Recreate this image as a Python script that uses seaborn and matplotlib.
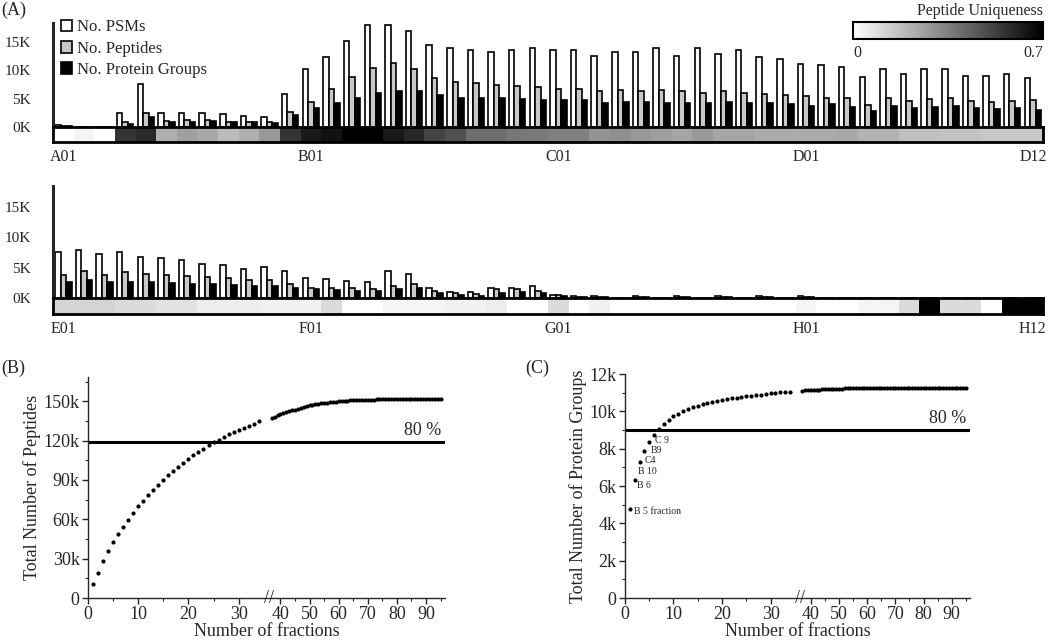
import numpy as np
import pandas as pd
import matplotlib
matplotlib.use("Agg")
import matplotlib.pyplot as plt
import matplotlib.transforms as mtransforms
from matplotlib.patches import Patch
import seaborn as sns

sns.set_style("ticks")
plt.rcParams["font.family"] = ["Liberation Serif", "DejaVu Serif"]

# ---------------- panel A data (values in thousands) ----------------
wells_top = [f"{r}{c:02d}" for r in "ABCD" for c in range(1, 13)]
wells_bot = [f"{r}{c:02d}" for r in "EFGH" for c in range(1, 13)]
labels_top = ["A01", "B01", "C01", "D01", "D12"]
labels_bot = ["E01", "F01", "G01", "H01", "H12"]

psm_top = [0.3, 0, 0, 2.5, 7.6, 2.5, 2.5, 2.5, 2.3, 1.95, 1.7, 5.8,
           10.2, 12.4, 15.2, 18.1, 18.0, 17.0, 14.5, 14.0, 13.6, 13.3, 13.6, 14.0,
           13.6, 13.6, 12.6, 13.3, 13.2, 13.9, 12.6, 13.9, 13.0, 13.6, 12.3, 12.1,
           11.2, 10.9, 10.6, 8.8, 10.3, 9.3, 10.3, 10.3, 9.0, 9.0, 9.3, 8.7]
pep_top = [0.2, 0, 0, 0.8, 2.4, 1.1, 1.2, 1.2, 0.95, 0.8, 0.8, 2.6,
           4.5, 6.7, 8.8, 10.5, 11.4, 10.3, 8.6, 7.9, 7.8, 7.5, 7.3, 7.0,
           6.8, 6.8, 6.3, 6.5, 6.3, 6.6, 6.3, 6.0, 6.3, 6.0, 5.8, 5.7,
           5.4, 5.2, 5.1, 3.9, 5.2, 4.6, 5.0, 5.2, 4.6, 4.5, 4.6, 4.7]
prot_top = [0.2, 0, 0, 0.55, 1.8, 0.8, 0.95, 1.0, 0.85, 0.8, 0.75, 2.1,
            3.4, 4.3, 5.2, 6.0, 6.4, 6.4, 5.6, 5.2, 5.2, 5.1, 5.0, 4.8,
            4.8, 4.8, 4.3, 4.5, 4.5, 4.3, 4.3, 4.3, 4.4, 4.3, 4.2, 4.1,
            3.8, 4.1, 3.5, 2.9, 3.7, 3.3, 3.5, 3.7, 3.3, 3.2, 3.3, 3.0]
uniq_top = [0, 0.03, 0, 0.56, 0.585, 0.217, 0.26, 0.239, 0.187, 0.217, 0.28, 0.56,
            0.63, 0.653, 0.7, 0.7, 0.631, 0.59, 0.513, 0.48, 0.398, 0.398, 0.373, 0.365,
            0.349, 0.349, 0.296, 0.307, 0.28, 0.26, 0.247, 0.28, 0.247, 0.247, 0.233, 0.233,
            0.23, 0.23, 0.239, 0.209, 0.209, 0.173, 0.173, 0.165, 0.165, 0.151, 0.151, 0.151]

psm_bot = [7.5, 7.9, 7.2, 7.5, 6.8, 6.6, 6.3, 5.6, 5.4, 4.8, 5.1, 4.4,
           3.3, 3.1, 2.8, 2.6, 4.5, 4.0, 1.6, 1.0, 0.9, 1.6, 1.6, 2.0,
           0.55, 0.3, 0.25, 0, 0.25, 0, 0.25, 0, 0.25, 0, 0.25, 0,
           0.3, 0, 0, 0, 0, 0, 0, 0, 0, 0, 0, 0]
pep_bot = [3.8, 4.4, 3.8, 4.2, 4.0, 3.7, 3.6, 3.4, 3.3, 2.9, 3.0, 2.3,
           1.7, 1.7, 1.7, 1.5, 2.0, 2.3, 1.2, 0.8, 0.7, 1.5, 1.4, 1.2,
           0.5, 0.2, 0.15, 0, 0.15, 0, 0.15, 0, 0.15, 0, 0.15, 0,
           0.2, 0, 0, 0, 0, 0, 0, 0, 0, 0, 0, 0]
prot_bot = [2.7, 3.0, 2.6, 2.7, 2.6, 2.5, 2.3, 2.3, 2.1, 1.9, 1.9, 1.6,
            1.4, 1.3, 1.2, 1.1, 1.5, 1.6, 0.8, 0.5, 0.4, 0.8, 0.9, 0.8,
            0.4, 0.15, 0.1, 0, 0.1, 0, 0.1, 0, 0.1, 0, 0.1, 0,
            0.15, 0, 0, 0, 0, 0, 0, 0, 0, 0, 0, 0]
uniq_bot = [0.12, 0.12, 0.12, 0.1, 0.1, 0.08, 0.08, 0.05, 0.05, 0.05, 0.04, 0.04,
            0.04, 0.1, 0, 0, 0.03, 0.03, 0.03, 0.04, 0.04, 0.05, 0, 0,
            0.1, 0, 0.04, 0, 0, 0, 0, 0, 0, 0, 0, 0,
            0.03, 0, 0, 0.03, 0.03, 0.1, 0.7, 0.1, 0.1, 0, 0.7, 0.7]

metrics = ["No. PSMs", "No. Peptides", "No. Protein Groups"]
bar_colors = ["white", "#c8c8c8", "black"]

# ---------------- panel B / C data ----------------
frac_x = list(range(1, 35)) + list(range(37, 96))
pep_cum = [10.4, 19.3, 28.2, 35.6, 42.5, 48.6, 54.2, 59.2, 64.8, 69.9,
           74.0, 78.3, 82.6, 86.4, 89.8, 93.6, 96.9, 99.9, 103.2, 106.3,
           108.8, 111.4, 113.7, 116.5, 118.7, 120.8, 122.8, 124.8, 126.6, 128.4,
           129.9, 131.2, 133.0, 134.8,
           137.3, 138.3, 139.5, 140.6, 141.3, 142.0, 142.7, 143.2, 143.7, 144.4,
           145.0, 145.7, 146.3, 147.0, 147.4, 147.8, 148.1, 148.4, 148.7, 149.0,
           149.3, 149.6, 149.8, 150.0, 150.2, 150.4, 150.5, 150.7, 150.8, 150.9,
           151.0, 151.1, 151.2, 151.3, 151.3, 151.3, 151.4, 151.4, 151.4, 151.4,
           151.4, 151.4, 151.5, 151.5, 151.5, 151.5, 151.5, 151.5, 151.5, 151.5,
           151.5, 151.5, 151.5, 151.5, 151.5, 151.5, 151.5, 151.5, 151.5]
prot_cum = [4.77, 6.34, 7.31, 7.89, 8.35, 8.73, 9.05, 9.34, 9.55, 9.73,
            9.87, 10.02, 10.13, 10.23, 10.30, 10.38, 10.45, 10.50, 10.56, 10.61,
            10.66, 10.70, 10.74, 10.77, 10.80, 10.84, 10.88, 10.90, 10.93, 10.97,
            11.00, 11.02, 11.04, 11.06,
            11.11, 11.12, 11.14, 11.15, 11.16, 11.16, 11.17, 11.18, 11.18, 11.19,
            11.20, 11.21, 11.21, 11.22, 11.22, 11.23, 11.23, 11.24, 11.24, 11.25,
            11.25, 11.25, 11.25, 11.25, 11.26, 11.26, 11.26, 11.26, 11.26, 11.26,
            11.26, 11.26, 11.26, 11.27, 11.27, 11.27, 11.27, 11.27, 11.27, 11.27,
            11.27, 11.27, 11.27, 11.27, 11.27, 11.27, 11.27, 11.27, 11.27, 11.27,
            11.27, 11.27, 11.27, 11.27, 11.27, 11.27, 11.27, 11.27, 11.27]
cut_b = 119.0
cut_c = 9.0
first_labels = ["B 5 fraction", "B 6", "B 10", "C4", "B9", "C 9"]
first_offsets = [(3, -2), (2, -4), (-1, -7), (0, -7), (1, -6), (1, -4)]

BRK, RATIO = 36.0, 0.58


def fwd(x):
    x = np.asarray(x, dtype=float)
    return np.where(x <= BRK, x, BRK + (x - BRK) * RATIO)


def inv(y):
    y = np.asarray(y, dtype=float)
    return np.where(y <= BRK, y, BRK + (y - BRK) / RATIO)


def bar_panel(ax_bar, ax_strip, wells, psm, pep, prot, uniq, labels, cax=None):
    df = pd.DataFrame({
        "well": wells * 3,
        "metric": [m for m in metrics for _ in wells],
        "value": psm + pep + prot,
    })
    sns.barplot(data=df, x="well", y="value", hue="metric", hue_order=metrics,
                palette=bar_colors, edgecolor="black", linewidth=1.2,
                width=0.8, ax=ax_bar, legend=False)
    ax_bar.set_xlim(-0.5, len(wells) - 0.5)
    ax_bar.set_ylim(0, 18.4)
    ax_bar.set_yticks([0, 5, 10, 15])
    ax_bar.set_yticklabels(["0K", "5K", "10K", "15K"], fontsize=11)
    ax_bar.tick_params(axis="y", length=0, pad=16)
    ax_bar.set_xticks([])
    ax_bar.set_xlabel("")
    ax_bar.set_ylabel("")
    for s in ["top", "right", "bottom"]:
        ax_bar.spines[s].set_visible(False)
    ax_bar.spines["left"].set_linewidth(2.2)

    sns.heatmap(np.array([uniq]), cmap="gray_r", vmin=0, vmax=0.7,
                cbar=cax is not None, cbar_ax=cax,
                cbar_kws={"orientation": "horizontal"},
                xticklabels=False, yticklabels=False, ax=ax_strip)
    for s in ax_strip.spines.values():
        s.set_visible(True)
        s.set_linewidth(2)
        s.set_color("black")
    ax_strip.set_xticks([0.5, 12.5, 24.5, 36.5, 47.5])
    ax_strip.set_xticklabels(labels, rotation=0, fontsize=11.5)
    ax_strip.tick_params(axis="x", length=0, pad=5)
    ax_strip.set_yticks([])


def curve_panel(ax, ys, cut, ylim, yticks, yticklabels, ylabel, yminor):
    ax.set_xscale("function", functions=(fwd, inv))
    sns.scatterplot(x=frac_x, y=ys, color="black", s=9, linewidth=0, ax=ax)
    ax.axhline(cut, color="black", lw=2.2)
    ax.set_xlim(0, 96.5)
    ax.set_ylim(*ylim)
    ax.set_xticks(list(range(0, 100, 10)))
    ax.set_xticklabels([str(v) for v in range(0, 100, 10)], fontsize=13)
    ax.set_xticks([5, 15, 25, 45, 55, 65, 75, 85, 95], minor=True)
    ax.set_yticks(yticks)
    ax.set_yticklabels(yticklabels, fontsize=13)
    ax.set_yticks(yminor, minor=True)
    ax.tick_params(which="major", direction="out", length=4, width=1, pad=2)
    ax.tick_params(which="minor", direction="out", length=2.5, width=0.8)
    ax.set_xlabel("Number of fractions", fontsize=13, labelpad=0)
    ax.set_ylabel(ylabel, fontsize=13, labelpad=2)
    sns.despine(ax=ax)
    for s in ["left", "bottom"]:
        ax.spines[s].set_linewidth(1)
    trans = mtransforms.blended_transform_factory(ax.transData, ax.transAxes)
    ax.text(BRK, 0.0, "//", transform=trans, ha="center", va="center",
            fontsize=13, clip_on=False)
    return ax


fig = plt.figure(figsize=(10.5, 6.44), dpi=100)

ax_top = fig.add_axes([0.0505, 0.8028, 0.943, 0.1615])
ax_top_s = fig.add_axes([0.0505, 0.7795, 0.943, 0.0233])
cax = fig.add_axes([0.8124, 0.9394, 0.181, 0.0264])
ax_bot = fig.add_axes([0.0505, 0.5373, 0.943, 0.1740])
ax_bot_s = fig.add_axes([0.0505, 0.5124, 0.943, 0.0249])

bar_panel(ax_top, ax_top_s, wells_top, psm_top, pep_top, prot_top, uniq_top,
          labels_top, cax=cax)
bar_panel(ax_bot, ax_bot_s, wells_bot, psm_bot, pep_bot, prot_bot, uniq_bot,
          labels_bot)

handles = [Patch(facecolor=c, edgecolor="black", linewidth=1.2) for c in bar_colors]
ax_top.legend(handles, metrics, loc="upper left", bbox_to_anchor=(0.006, 1.05),
              frameon=False, fontsize=12, handlelength=0.7, handleheight=0.7,
              handletextpad=0.3, labelspacing=0.32, borderpad=0.1,
              borderaxespad=0)

cbar = ax_top_s.collections[0].colorbar
cbar.set_ticks([0, 0.7])
cbar.ax.set_xticklabels(["0", "0.7"], fontsize=11.5)
tl = cbar.ax.get_xticklabels()
tl[0].set_ha("left")
tl[1].set_ha("right")
cbar.ax.tick_params(length=0, pad=4)
cbar.outline.set_linewidth(1.5)
cbar.outline.set_edgecolor("black")
cax.text(1.0, 1.2, "Peptide Uniqueness", transform=cax.transAxes,
         ha="right", va="bottom", fontsize=11.5)

# ---------------- panel B ----------------
ax_b = fig.add_axes([0.0838, 0.0714, 0.34, 0.3432])
curve_panel(ax_b, [v * 1000 for v in pep_cum], cut_b * 1000, (0, 168500),
            [0, 30000, 60000, 90000, 120000, 150000],
            ["0", "30k", "60k", "90k", "120k", "150k"],
            "Total Number of Peptides", list(range(15000, 168000, 30000)))
ax_b.text(0.99, 128000, "80 %",
          transform=mtransforms.blended_transform_factory(ax_b.transAxes, ax_b.transData),
          ha="right", va="center", fontsize=13)

# ---------------- panel C ----------------
ax_c = fig.add_axes([0.5952, 0.0714, 0.3286, 0.3478])
curve_panel(ax_c, [v * 1000 for v in prot_cum], cut_c * 1000, (0, 12000),
            list(range(0, 12001, 2000)),
            ["0", "2k", "4k", "6k", "8k", "10k", "12k"],
            "Total Number of Protein Groups", list(range(1000, 12000, 2000)))
ax_c.text(0.99, 9640, "80 %",
          transform=mtransforms.blended_transform_factory(ax_c.transAxes, ax_c.transData),
          ha="right", va="center", fontsize=13)
for i, (lab, off) in enumerate(zip(first_labels, first_offsets)):
    ax_c.annotate(lab, (frac_x[i], prot_cum[i] * 1000), xytext=off,
                  textcoords="offset points", ha="left", va="center",
                  fontsize=7)

fig.text(0.001, 0.998, "(A)", ha="left", va="top", fontsize=13)
fig.text(0.001, 0.428, "(B)", ha="left", va="center", fontsize=13)
fig.text(0.5, 0.428, "(C)", ha="left", va="center", fontsize=13)

fig.savefig("out.png", dpi=100)
